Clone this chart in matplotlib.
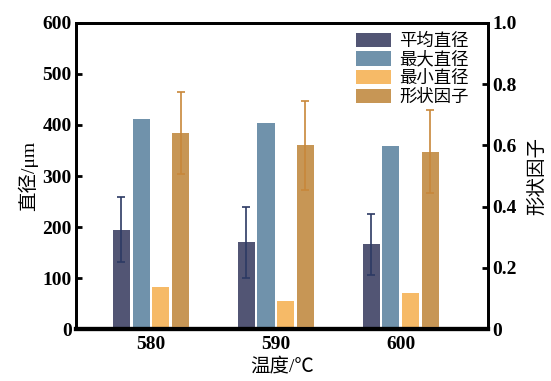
import numpy as np
import matplotlib.pyplot as plt
from matplotlib.ticker import FixedLocator

# fonts: Times-like for numbers, CJK fallback for Chinese
plt.rcParams['font.family'] = ['Liberation Serif', 'Noto Sans CJK SC']
plt.rcParams['axes.unicode_minus'] = False

# data
temps = ['580', '590', '600']
mean_d = [195, 170, 166]
mean_err = [63, 70, 60]
max_d = [411, 403, 359]
min_d = [82, 55, 70]
shape = [0.64, 0.60, 0.58]
shape_err = [0.135, 0.145, 0.135]
labels = ['平均直径', '最大直径', '最小直径', '形状因子']
colors = ['#525574', '#7092ab', '#f6ba67', '#c79655']

x = np.arange(len(temps))
w = 0.137
step = 0.158

fig = plt.figure(figsize=(5.51, 3.81), dpi=100)
ax = fig.add_axes([0.138, 0.136, 0.748, 0.804])
ax2 = ax.twinx()

b1 = ax.bar(x - 1.5*step, mean_d, w, color=colors[0], yerr=mean_err,
            error_kw=dict(ecolor='#2c3a64', elinewidth=1.2, capsize=3, capthick=1.2))
b2 = ax.bar(x - 0.5*step, max_d, w, color=colors[1])
b3 = ax.bar(x + 0.5*step, min_d, w, color=colors[2])
b4 = ax2.bar(x + 1.5*step, shape, w, color=colors[3], yerr=shape_err,
             error_kw=dict(ecolor='#c8873a', elinewidth=1.2, capsize=3, capthick=1.2))

ax.set_xlim(-0.6, 2.7)
ax.set_ylim(0, 600)
ax2.set_ylim(0, 1.0)
ax.set_xticks(x)
ax.set_xticklabels(temps, fontsize=14, fontweight='bold')
ax.tick_params(axis='x', length=0, pad=5)
ax.yaxis.set_major_locator(FixedLocator([0, 100, 200, 300, 400, 500, 600]))
ax.tick_params(axis='y', direction='in', length=4, width=2, labelsize=14, pad=3)
for t in ax.get_yticklabels():
    t.set_fontweight('bold')
ax2.set_yticks([0, 0.2, 0.4, 0.6, 0.8, 1.0])
ax2.set_yticklabels(['0', '0.2', '0.4', '0.6', '0.8', '1.0'], fontsize=14, fontweight='bold')
ax2.tick_params(axis='y', direction='in', length=4, width=2, pad=3)

for a in (ax, ax2):
    for s in a.spines.values():
        s.set_linewidth(2)
    a.spines['bottom'].set_linewidth(3)

ax.set_xlabel('温度/℃', fontsize=14, labelpad=3)
ax.set_ylabel('直径/μm', fontsize=14, labelpad=3)
ax2.set_ylabel('形状因子', fontsize=14, labelpad=8)

ax2.legend([b1, b2, b3, b4], labels, loc='upper right', frameon=False,
           fontsize=12.5, handlelength=2.0, handleheight=0.9,
           labelspacing=0.08, handletextpad=0.5, borderaxespad=0.0,
           bbox_to_anchor=(0.97, 0.99))

fig.savefig('out.png', dpi=100)
